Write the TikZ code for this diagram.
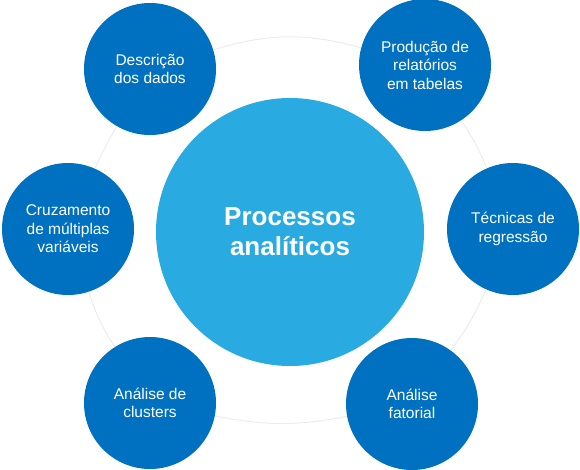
\documentclass[tikz,border=0pt]{standalone}
\usepackage{fontspec}
\setmainfont{Liberation Sans}
\usetikzlibrary{positioning}
\definecolor{deepblue}{HTML}{0070C0}
\definecolor{skyblue}{HTML}{29ABE2}
\definecolor{ring}{HTML}{ECECEC}

\begin{document}
\begin{tikzpicture}[x=1pt,y=-1pt,
  topic/.style={circle,fill=deepblue,text=white,minimum size=132pt,inner sep=0pt,align=center,font=\fontsize{15.5}{18.5}\selectfont},
  hub/.style={circle,fill=skyblue,text=white,minimum size=268pt,inner sep=0pt,align=center,font=\fontsize{26}{30}\selectfont\bfseries},
  link/.style={ring,line width=1pt}]
\useasboundingbox (0,0) rectangle (580,469);
% centre
\node[hub] (proc) at (290,232) {Processos\\anal\'iticos};
% outer topics, clockwise from top left
\node[topic] (desc) at (150,69) {Descrição\\dos dados};
\node[topic] (prod) at (425,65) {Produção de\\relatórios\\em tabelas};
\node[topic] (tec) at (513,229) {Técnicas de\\regressão};
\node[topic] (fat) at (412,404) {Análise\\fatorial};
\node[topic] (clus) at (150,403) {Análise de\\clusters};
\node[topic] (cruz) at (68,229) {Cruzamento\\de múltiplas\\variáveis};
% faint ring
\draw[link] (desc) to[bend left=16] (prod);
\draw[link] (prod) to[bend left=5] (tec);
\draw[link] (tec) to[bend left=6] (fat);
\draw[link] (fat) to[bend left=11] (clus);
\draw[link] (clus) to[bend left=7] (cruz);
\draw[link] (cruz) to[bend left=3] (desc);
\end{tikzpicture}
\end{document}
